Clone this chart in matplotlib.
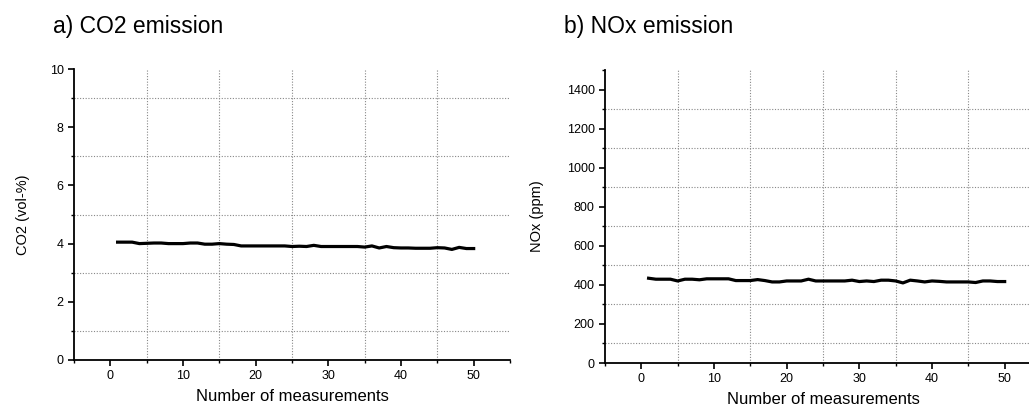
import numpy as np
import matplotlib.pyplot as plt
from matplotlib.ticker import MultipleLocator

n = np.arange(1, 51)
co2 = [4.05, 4.05, 4.05, 4.00, 4.01, 4.02, 4.02, 4.00, 4.00, 4.00,
       4.02, 4.02, 3.98, 3.98, 4.00, 3.98, 3.97, 3.92, 3.92, 3.92,
       3.92, 3.92, 3.92, 3.92, 3.90, 3.91, 3.90, 3.94, 3.90, 3.90,
       3.90, 3.90, 3.90, 3.90, 3.88, 3.92, 3.85, 3.90, 3.86, 3.85,
       3.85, 3.84, 3.84, 3.84, 3.86, 3.85, 3.80, 3.87, 3.83, 3.83]
nox = [434, 429, 429, 429, 420, 429, 429, 426, 431, 431,
       431, 431, 422, 422, 422, 427, 422, 415, 415, 420,
       420, 420, 429, 420, 420, 420, 420, 420, 424, 417,
       420, 417, 424, 424, 420, 410, 424, 420, 415, 420,
       418, 415, 415, 415, 415, 412, 420, 420, 417, 417]

titles = ["a) CO2 emission", "b) NOx emission"]
ylabels = ["CO2 (vol-%)", "NOx (ppm)"]

plt.rcParams['font.family'] = ['Liberation Sans', 'DejaVu Sans']
fig = plt.figure(figsize=(10.29, 4.08), dpi=100)
W, H = 1029, 408

ax1 = fig.add_axes([74 / W, 1 - 360 / H, (510 - 74) / W, (360 - 69) / H])
ax2 = fig.add_axes([605 / W, 1 - 363 / H, 436 / W, (363 - 70) / H])

for ax, y, yl, ymax, ystep, tt, tx, lp in [
        (ax1, co2, ylabels[0], 10, 2, titles[0], 53, 14),
        (ax2, nox, ylabels[1], 1500, 200, titles[1], 564, 16)]:
    ax.plot(n, y, color='black', lw=2.3)
    ax.set_xlim(-5, 55)
    ax.set_ylim(0, ymax)
    ax.xaxis.set_major_locator(MultipleLocator(10))
    ax.xaxis.set_minor_locator(MultipleLocator(5))
    ax.yaxis.set_major_locator(MultipleLocator(ystep))
    ax.yaxis.set_minor_locator(MultipleLocator(ystep / 2))
    ax.set_xticks([0, 10, 20, 30, 40, 50])
    ax.grid(False)
    # grid only on the odd (minor) positions, like the original
    for xv in [5, 15, 25, 35, 45]:
        ax.axvline(xv, color='#888888', lw=0.8, ls=(0, (1, 1.5)), zorder=0)
    for yv in np.arange(ystep / 2, ymax, ystep):
        ax.axhline(yv, color='#888888', lw=0.8, ls=(0, (1, 1.5)), zorder=0)
    ax.spines['top'].set_visible(False)
    ax.spines['right'].set_visible(False)
    ax.spines['left'].set_linewidth(1.3)
    ax.spines['bottom'].set_linewidth(1.3)
    ax.tick_params(which='major', direction='out', length=4, width=1.2,
                   labelsize=9, colors='black')
    ax.tick_params(which='minor', direction='out', length=2.5, width=1.0)
    ax.set_ylabel(yl, fontsize=10.5, labelpad=lp)
    ax.set_xlabel("Number of measurements", fontsize=12, labelpad=5)
    fig.text(tx / W, 1 - 27 / H, tt, fontsize=16.5, va='center', ha='left')

fig.savefig("out.png", dpi=100)
